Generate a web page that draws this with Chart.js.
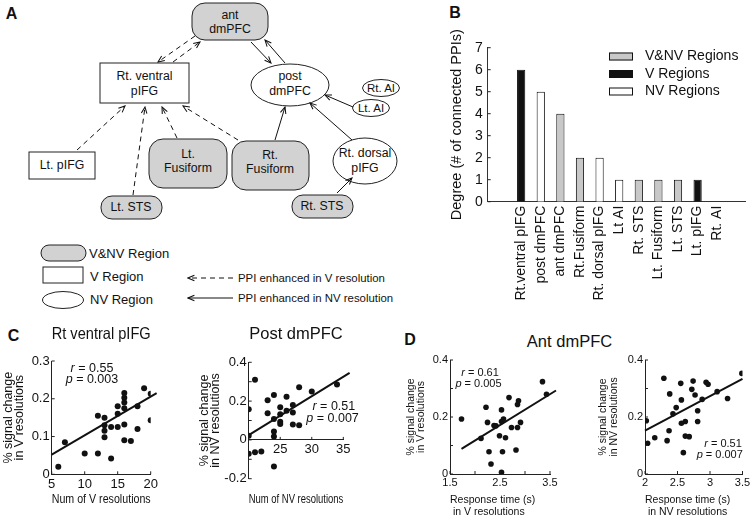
<!DOCTYPE html>
<html>
<head>
<meta charset="utf-8">
<script src="https://cdn.jsdelivr.net/npm/chart.js@4.4.0/dist/chart.umd.min.js"></script>
<style>
  body { margin: 0; background: #fff; }
  #fig { position: relative; width: 755px; height: 523px; overflow: hidden; font-family: "Liberation Sans", Arial, sans-serif; color: #111; }
  #fig canvas { position: absolute; }
  .lbl { position: absolute; transform: translate(-50%, -50%); line-height: 1; white-space: nowrap; }
  .panel { font-weight: bold; font-size: 16px; }
</style>
</head>
<body>
<div id="fig">

<svg width="440" height="315" style="position:absolute;left:0;top:0" font-family="Liberation Sans, Arial, sans-serif" font-size="12.3">
  <defs>
    <marker id="ah" markerUnits="userSpaceOnUse" viewBox="0 0 10 10" refX="9" refY="5" markerWidth="8" markerHeight="8" orient="auto">
      <path d="M1,1.5 L9,5 L1,8.5" fill="none" stroke="#111" stroke-width="1.3"/>
    </marker>
  </defs>
  <!-- regions -->
  <g stroke="#222" stroke-width="1">
    <rect x="192" y="3" width="76" height="37" rx="13" fill="#d2d2d2"/>
    <rect x="100" y="63" width="89" height="40" fill="#fff"/>
    <ellipse cx="290" cy="85" rx="39" ry="21" fill="#fff"/>
    <ellipse cx="381" cy="88" rx="18.5" ry="8.5" fill="#fff"/>
    <ellipse cx="371" cy="108" rx="18.5" ry="8.5" fill="#fff"/>
    <rect x="29" y="152" width="66" height="27" fill="#fff"/>
    <rect x="149" y="139" width="78" height="49" rx="14" fill="#d2d2d2"/>
    <rect x="232" y="141" width="77" height="49" rx="14" fill="#d2d2d2"/>
    <ellipse cx="365" cy="161" rx="32" ry="23" fill="#fff"/>
    <rect x="101" y="196" width="61" height="23" rx="11" fill="#d2d2d2"/>
    <rect x="292" y="195" width="61" height="23" rx="11" fill="#d2d2d2"/>
    <!-- legend shapes -->
    <rect x="41" y="245" width="45" height="16" rx="8" fill="#d2d2d2"/>
    <rect x="43" y="267" width="40" height="16" fill="#fff"/>
    <ellipse cx="63" cy="300" rx="20.5" ry="8.5" fill="#fff"/>
  </g>
  <!-- PPI enhanced in V resolution -->
  <g stroke="#111" stroke-width="1" stroke-dasharray="5,4" fill="none">
    <line x1="195" y1="36" x2="158" y2="62" marker-end="url(#ah)"/>
    <line x1="173" y1="62" x2="200" y2="42" marker-end="url(#ah)"/>
    <line x1="77" y1="150" x2="125" y2="106" marker-end="url(#ah)"/>
    <line x1="133" y1="195" x2="145" y2="107" marker-end="url(#ah)"/>
    <line x1="177" y1="138" x2="162" y2="107" marker-end="url(#ah)"/>
    <line x1="238" y1="140" x2="183" y2="106" marker-end="url(#ah)"/>
    <line x1="233" y1="278" x2="188" y2="278" marker-end="url(#ah)"/>
  </g>
  <!-- PPI enhanced in NV resolution -->
  <g stroke="#111" stroke-width="1" fill="none">
    <line x1="251" y1="42" x2="271" y2="63" marker-end="url(#ah)"/>
    <line x1="285" y1="63" x2="265" y2="40" marker-end="url(#ah)"/>
    <line x1="275" y1="140" x2="285" y2="107" marker-end="url(#ah)"/>
    <line x1="353" y1="107" x2="325" y2="95" marker-end="url(#ah)"/>
    <line x1="352" y1="140" x2="310" y2="103" marker-end="url(#ah)"/>
    <line x1="337" y1="193" x2="352" y2="178" marker-end="url(#ah)"/>
    <line x1="233" y1="298" x2="188" y2="298" marker-end="url(#ah)"/>
  </g>
  <g fill="#111" text-anchor="middle" dominant-baseline="central">
    <text x="230" y="15">ant</text>
    <text x="230" y="29">dmPFC</text>
    <text x="144.5" y="76">Rt. ventral</text>
    <text x="144.5" y="91">pIFG</text>
    <text x="290" y="76">post</text>
    <text x="290" y="91">dmPFC</text>
    <text x="381" y="88" font-size="11.5">Rt. AI</text>
    <text x="371" y="108" font-size="11.5">Lt. AI</text>
    <text x="62" y="165">Lt. pIFG</text>
    <text x="188" y="154">Lt.</text>
    <text x="188" y="168">Fusiform</text>
    <text x="270" y="155">Rt.</text>
    <text x="270" y="169">Fusiform</text>
    <text x="365" y="153">Rt. dorsal</text>
    <text x="365" y="168">pIFG</text>
    <text x="131" y="207">Lt. STS</text>
    <text x="322" y="206">Rt. STS</text>
  </g>
  <g fill="#111" dominant-baseline="central">
    <text x="89" y="253" font-size="13">V&amp;NV Region</text>
    <text x="90" y="276" font-size="13">V Region</text>
    <text x="90" y="299" font-size="13">NV Region</text>
    <text x="238" y="278" font-size="11.4">PPI enhanced in V resolution</text>
    <text x="238" y="298" font-size="11.4">PPI enhanced in NV resolution</text>
  </g>
</svg>

<div class="lbl panel" style="left:11.5px;top:13.5px">A</div>
<div class="lbl panel" style="left:455px;top:13px">B</div>
<div class="lbl panel" style="left:13.5px;top:335.5px">C</div>
<div class="lbl panel" style="left:410px;top:340px">D</div>
<div class="lbl" style="left:569.5px;top:340.5px;font-size:16.5px">Ant dmPFC</div>

<canvas id="degreeChart" width="310" height="305" style="left:440px;top:5px"></canvas>
<canvas id="cVentral" width="165" height="200" style="left:0px;top:320px"></canvas>
<canvas id="cPost" width="175" height="200" style="left:185px;top:320px"></canvas>
<canvas id="dV" width="165" height="175" style="left:400px;top:345px"></canvas>
<canvas id="dNV" width="160" height="175" style="left:595px;top:345px"></canvas>
</div>

<script>
// ---- panel B: degree per region ----
const regions = ['Rt.ventral pIFG', 'post dmPFC', 'ant dmPFC', 'Rt.Fusiform', 'Rt. dorsal pIFG',
  'Lt AI', 'Rt. STS', 'Lt. Fusiform', 'Lt. STS', 'Lt. pIFG', 'Rt. AI'];
const degree = [6, 5, 4, 2, 2, 1, 1, 1, 1, 1, 0];
const regionType = ['V', 'NV', 'VNV', 'VNV', 'NV', 'NV', 'VNV', 'VNV', 'VNV', 'V', 'NV'];
const typeKeys = ['VNV', 'V', 'NV'];
const typeNames = ['V&NV Regions', 'V Regions', 'NV Regions'];
const typeColors = ['#c8c8c8', '#111111', '#ffffff'];
const degreeTicks = ['0', '1', '2', '3', '4', '5', '6', '7'];

// ---- panel C: Rt ventral pIFG ----
const ventralNumV = [6, 7, 10, 12, 12, 13, 13, 13, 13, 14, 14, 15, 15, 15, 16, 16, 16, 16, 16, 16, 17, 18, 18, 19, 20, 20];
const ventralSignal = [0.02, 0.085, 0.055, 0.155, 0.055, 0.15, 0.13, 0.115, 0.098, 0.125, 0.042, 0.125, 0.16, 0.18,
  0.215, 0.203, 0.19, 0.175, 0.132, 0.09, 0.088, 0.18, 0.12, 0.228, 0.213, 0.143];
const ventralFit = [{x: 5, y: 0.052}, {x: 20.9, y: 0.215}];
const ventralStats = ['0.55', '0.003'];
const ventralXTicks = ['5', '10', '15', '20'];
const ventralYTicks = ['0', '0.1', '0.2', '0.3'];

// ---- panel C: Post dmPFC ----
const postNumNV = [20, 20, 20, 21, 21, 22, 23, 23, 24, 24, 24, 24, 24, 25, 25, 25, 25, 26, 26, 27, 27, 27, 28, 28, 30, 34];
const postSignal = [0.158, 0.022, -0.072, 0.31, -0.064, -0.06, 0.205, 0.137, 0.232, 0.108, 0.043, 0.017, -0.137,
  0.168, 0.132, 0.094, 0.082, 0.222, 0.15, 0.18, 0.141, 0.08, 0.272, 0.076, 0.25, 0.286];
const postFit = [{x: 20, y: 0.025}, {x: 36, y: 0.345}];
const postStats = ['0.51', '0.007'];
const postXTicks = ['', '25', '30', '35'];
const postYTicks = ['-0.2', '', '0', '', '0.2', '', '0.4'];

// ---- panel D: Ant dmPFC, V resolutions ----
const antRtV = [1.73, 2.12, 2.22, 2.25, 2.28, 2.32, 2.38, 2.42, 2.49, 2.53, 2.53, 2.57, 2.55, 2.53, 2.61, 2.68,
  2.73, 2.82, 2.85, 2.87, 2.85, 2.91, 3.35, 3.43, 3.57, 3.63];
const antSignalV = [0.193, 0.125, 0.234, 0.181, 0.078, 0.035, 0.17, 0.169, 0.134, 0.225, 0.184, 0.193, 0.078, 0.006,
  0.127, 0.268, 0.163, 0.084, 0.244, 0.257, 0.163, 0.181, 0.324, 0.28, 0.265, 0.3];
const antFitV = [{x: 1.73, y: 0.088}, {x: 3.62, y: 0.293}];
const antStatsV = ['0.61', '0.005'];
const antXTicksV = ['1.5', '', '2.5', '', '3.5'];

// ---- panel D: Ant dmPFC, NV resolutions ----
const antRtNV = [2.02, 2.04, 2.15, 2.29, 2.34, 2.38, 2.37, 2.43, 2.48, 2.55, 2.56, 2.56, 2.62, 2.59, 2.62, 2.68,
  2.72, 2.74, 2.77, 2.81, 2.81, 2.88, 2.94, 2.97, 3.11, 3.27, 3.49];
const antSignalNV = [0.187, 0.108, 0.127, 0.336, 0.117, 0.281, 0.152, 0.211, 0.233, 0.318, 0.26, 0.178, 0.184, 0.075,
  0.133, 0.131, 0.297, 0.326, 0.277, 0.222, 0.184, 0.262, 0.322, 0.315, 0.289, 0.265, 0.353];
const antFitNV = [{x: 2, y: 0.152}, {x: 3.5, y: 0.334}];
const antStatsNV = ['0.51', '0.007'];
const antXTicksNV = ['2', '2.5', '3', '3.5'];
const antYTicks = ['0', '', '0.2', '', '0.4'];

Chart.defaults.font.family = '"Liberation Sans", Arial, sans-serif';
Chart.defaults.color = '#111';

// short tick marks pointing into the plot, like the original figure
const inTicks = {
  id: 'inTicks',
  afterDraw(chart, args, opts) {
    if (!opts.axes) return;
    const ctx = chart.ctx;
    ctx.save();
    ctx.strokeStyle = '#222';
    ctx.lineWidth = 1;
    opts.axes.forEach(id => {
      const s = chart.scales[id];
      s.ticks.forEach(t => {
        const p = s.getPixelForValue(t.value);
        ctx.beginPath();
        if (s.isHorizontal()) {
          const y0 = typeof s.options.position === 'object'
            ? chart.scales.y.getPixelForValue(0) : chart.chartArea.bottom;
          ctx.moveTo(p, y0);
          ctx.lineTo(p, y0 - 3);
        } else {
          const x0 = chart.chartArea.left;
          ctx.moveTo(x0, p);
          ctx.lineTo(x0 + 3, p);
        }
        ctx.stroke();
      });
    });
    ctx.restore();
  }
};

// "r = ..." / "p = ..." with italic symbol
const statText = {
  id: 'statText',
  afterDraw(chart, args, opts) {
    if (!opts.items) return;
    const {ctx, scales} = chart;
    const fam = Chart.defaults.font.family;
    ctx.save();
    ctx.fillStyle = '#111';
    ctx.textBaseline = 'middle';
    ctx.textAlign = 'left';
    opts.items.forEach(it => {
      const cx = scales.x.getPixelForValue(it.x);
      const cy = scales.y.getPixelForValue(it.y);
      const rest = ' = ' + it.val;
      ctx.font = 'italic ' + opts.size + 'px ' + fam;
      const w1 = ctx.measureText(it.sym).width;
      ctx.font = opts.size + 'px ' + fam;
      const w2 = ctx.measureText(rest).width;
      let x = cx - (w1 + w2) / 2;
      ctx.font = 'italic ' + opts.size + 'px ' + fam;
      ctx.fillText(it.sym, x, cy);
      ctx.font = opts.size + 'px ' + fam;
      ctx.fillText(rest, x + w1, cy);
    });
    ctx.restore();
  }
};

// legend boxes drawn inside the plot area
const boxLegend = {
  id: 'boxLegend',
  afterDraw(chart, args, opts) {
    if (opts.x === undefined) return;
    const ctx = chart.ctx;
    ctx.save();
    ctx.font = opts.size + 'px ' + Chart.defaults.font.family;
    ctx.textBaseline = 'middle';
    ctx.textAlign = 'left';
    chart.data.datasets.forEach((ds, i) => {
      const y = opts.y + i * opts.gap;
      ctx.fillStyle = ds.backgroundColor;
      ctx.fillRect(opts.x, y - opts.h / 2, opts.w, opts.h);
      ctx.strokeStyle = '#111';
      ctx.lineWidth = 1;
      ctx.strokeRect(opts.x + 0.5, y - opts.h / 2 + 0.5, opts.w - 1, opts.h - 1);
      ctx.fillStyle = '#111';
      ctx.fillText(ds.label, opts.textX, y);
    });
    ctx.restore();
  }
};

Chart.register(inTicks, statText, boxLegend);

new Chart(document.getElementById('degreeChart'), {
  type: 'bar',
  data: {
    datasets: typeKeys.map((k, j) => ({
      label: typeNames[j],
      backgroundColor: typeColors[j],
      borderColor: '#111',
      borderWidth: 1,
      grouped: false,
      barPercentage: 0.42,
      categoryPercentage: 1,
      data: regions.map((r, i) => regionType[i] === k ? {x: i, y: degree[i]} : null).filter(Boolean)
    }))
  },
  options: {
    responsive: false,
    animation: false,
    events: [],
    layout: {padding: {top: 42.7, right: 5, left: 0, bottom: 0}},
    plugins: {
      legend: {display: false},
      tooltip: {enabled: false},
      inTicks: {axes: ['y']},
      boxLegend: {x: 169, y: 51.5, gap: 17.5, w: 24, h: 8, textX: 205, size: 14}
    },
    scales: {
      x: {
        type: 'linear', min: -1.11, max: 10.82,
        afterBuildTicks: s => { s.ticks = regions.map((r, i) => ({value: i})); },
        afterFit: s => { s.height = 108.3; },
        ticks: {autoSkip: false, minRotation: 90, maxRotation: 90, padding: 4, font: {size: 14},
          callback: v => regions[v]},
        grid: {display: false, drawTicks: false},
        border: {color: '#333'}
      },
      y: {
        min: 0, max: 7,
        afterFit: s => { s.width = 47.7; },
        ticks: {stepSize: 1, padding: 5, font: {size: 14}, callback: (v, i) => degreeTicks[i]},
        grid: {display: false, drawTicks: false},
        border: {color: '#333'},
        title: {display: true, text: 'Degree (# of connected PPIs)', font: {size: 14.5}, padding: {top: 8, bottom: 0}}
      }
    }
  }
});

function scatterChart(id, o) {
  return new Chart(document.getElementById(id), {
    type: 'scatter',
    data: {
      datasets: [
        {data: o.xs.map((x, i) => ({x: x, y: o.ys[i]})), pointRadius: o.dot,
          pointBackgroundColor: '#111', pointBorderWidth: 0},
        {type: 'line', data: o.fit, borderColor: '#111', borderWidth: 2, pointRadius: 0,
          clip: false, fill: false}
      ]
    },
    options: {
      responsive: false,
      animation: false,
      events: [],
      layout: {padding: o.pad},
      plugins: {
        legend: {display: false},
        tooltip: {enabled: false},
        title: o.title || {display: false},
        inTicks: {axes: ['x', 'y']},
        statText: {items: o.stats, size: o.statSize}
      },
      scales: o.scales
    }
  });
}

function axis(min, max, step, labels, size, extra) {
  return Object.assign({
    type: 'linear', min: min, max: max,
    ticks: {stepSize: step, padding: 2, font: {size: size}, callback: (v, i) => labels[i]},
    grid: {display: false, drawTicks: false},
    border: {color: '#222'}
  }, extra);
}

function chartTitle(text, bottom) {
  return {display: true, text: text, fullSize: false, color: '#111',
    font: {size: 16.5, weight: 'normal'}, padding: {top: 5, bottom: bottom}};
}

scatterChart('cVentral', {
  xs: ventralNumV, ys: ventralSignal, fit: ventralFit, dot: 3,
  pad: {left: 0, right: 14.3, top: 0, bottom: 0},
  title: chartTitle('Rt ventral pIFG', 16.2),
  stats: [{sym: 'r', val: ventralStats[0], x: 11.1, y: 0.279}, {sym: 'p', val: ventralStats[1], x: 11.1, y: 0.25}],
  statSize: 12.5,
  scales: {
    x: axis(5, 20, 5, ventralXTicks, 13, {
      afterFit: s => { s.height = 45.7; },
      title: {display: true, text: 'Num of V resolutions', font: {size: 12}, padding: {top: 0, bottom: 13}}
    }),
    y: axis(0, 0.3, 0.1, ventralYTicks, 13, {
      afterFit: s => { s.width = 51.7; },
      title: {display: true, text: ['% signal change', 'in V resolutions'], font: {size: 12.5, lineHeight: 0.88},
        padding: {top: 3, bottom: 0}}
    })
  }
});

scatterChart('cPost', {
  xs: postNumNV, ys: postSignal, fit: postFit, dot: 3,
  pad: {left: 0, right: 16.7, top: 0, bottom: 0},
  title: chartTitle('Post dmPFC', 17.5),
  stats: [{sym: 'r', val: postStats[0], x: 33.5, y: 0.172}, {sym: 'p', val: postStats[1], x: 33.3, y: 0.11}],
  statSize: 12.5,
  scales: {
    x: axis(20, 35, 5, postXTicks, 13, {position: {y: 0}}),
    x2: axis(20, 35, 5, postXTicks, 13, {
      axis: 'x', position: 'bottom',
      ticks: {display: false},
      border: {display: false},
      afterFit: s => { s.height = 41.3; },
      title: {display: true, text: 'Num of NV resolutions', font: {size: 12}, padding: {top: 0, bottom: 13}}
    }),
    y: axis(-0.2, 0.4, 0.1, postYTicks, 13, {
      afterFit: s => { s.width = 63.7; },
      title: {display: true, text: ['% signal change', 'in NV resolutions'], font: {size: 12.5, lineHeight: 0.88},
        padding: {top: 14, bottom: 0}}
    })
  }
});

scatterChart('dV', {
  xs: antRtV, ys: antSignalV, fit: antFitV, dot: 2.8,
  pad: {left: 0, right: 15, top: 15, bottom: 0},
  stats: [{sym: 'r', val: antStatsV[0], x: 2.1, y: 0.354}, {sym: 'p', val: antStatsV[1], x: 2.07, y: 0.317}],
  statSize: 11,
  scales: {
    x: axis(1.5, 3.5, 0.5, antXTicksV, 11, {
      afterFit: s => { s.height = 46; },
      title: {display: true, align: 'start', text: ['Response time (s)', ' in V resolutions'],
        font: {size: 10.5, lineHeight: 1.1}, padding: {top: 0, bottom: 2.5}}
    }),
    y: axis(0, 0.4, 0.1, antYTicks, 11, {
      afterFit: s => { s.width = 50; },
      title: {display: true, text: ['% signal change', 'in V resolutions'], font: {size: 10.5, lineHeight: 0.97},
        padding: {top: 6, bottom: 0}}
    })
  }
});

scatterChart('dNV', {
  xs: antRtNV, ys: antSignalNV, fit: antFitNV, dot: 2.8,
  pad: {left: 0, right: 12.5, top: 15, bottom: 0},
  stats: [{sym: 'r', val: antStatsNV[0], x: 3.2, y: 0.104}, {sym: 'p', val: antStatsNV[1], x: 3.15, y: 0.067}],
  statSize: 11,
  scales: {
    x: axis(2, 3.5, 0.5, antXTicksNV, 11, {
      afterFit: s => { s.height = 46; },
      title: {display: true, align: 'start', text: ['Response time (s)', ' in NV resolutions'],
        font: {size: 10.5, lineHeight: 1.1}, padding: {top: 0, bottom: 2.5}}
    }),
    y: axis(0, 0.4, 0.1, antYTicks, 11, {
      afterFit: s => { s.width = 50; },
      title: {display: true, text: ['% signal change', 'in NV resolutions'], font: {size: 10.5, lineHeight: 0.97},
        padding: {top: 3.5, bottom: 0}}
    })
  }
});
</script>
</body>
</html>
